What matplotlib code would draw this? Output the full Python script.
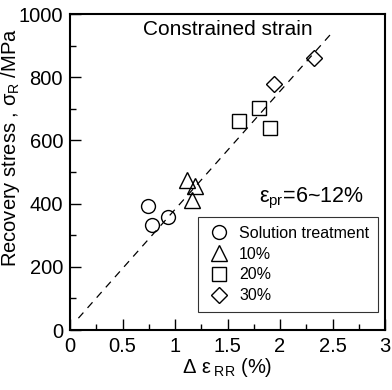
import matplotlib
matplotlib.use('Agg')
import matplotlib.pyplot as plt
import numpy as np
from matplotlib.ticker import MultipleLocator, FormatStrFormatter

plt.rcParams['font.family'] = ['Liberation Sans', 'DejaVu Sans']
plt.rcParams['mathtext.fontset'] = 'custom'
plt.rcParams['mathtext.rm'] = 'Liberation Sans'
plt.rcParams['mathtext.it'] = 'Liberation Sans'

# data
st_x = [0.74, 0.78, 0.93]
st_y = [393, 331, 357]
p10_x = [1.11, 1.19, 1.16]
p10_y = [474, 457, 411]
p20_x = [1.61, 1.80, 1.90]
p20_y = [662, 701, 639]
p30_x = [1.94, 2.32]
p30_y = [778, 861]
fit_x = [0.08, 2.48]
slope, icpt = 374, 7.5

fig = plt.figure(figsize=(3.92, 3.90), dpi=100)
ax = fig.add_axes([70/392, 1-330/390, 315/392, 316/390])

ms = 10
kw = dict(ls='none', mfc='none', mec='k', mew=1.0)
ax.plot(st_x, st_y, marker='o', ms=ms, label='Solution treatment', **kw)
ax.plot(p10_x, p10_y, marker='^', ms=ms+1, label='10%', **kw)
ax.plot(p20_x, p20_y, marker='s', ms=ms, label='20%', **kw)
ax.plot(p30_x, p30_y, marker='D', ms=ms-2, label='30%', **kw)
fx = np.array(fit_x)
ax.plot(fx, slope*fx+icpt, 'k--', lw=0.9, dashes=(6, 5))

ax.set_xlim(0, 3)
ax.set_ylim(0, 1000)
ax.xaxis.set_major_locator(MultipleLocator(0.5))
ax.xaxis.set_minor_locator(MultipleLocator(0.25))
ax.xaxis.set_major_formatter(FormatStrFormatter('%g'))
ax.yaxis.set_major_locator(MultipleLocator(200))
ax.yaxis.set_minor_locator(MultipleLocator(100))
ax.tick_params(which='both', direction='in', labelsize=14.5, width=1)
ax.tick_params(which='major', length=8, pad=5)
ax.tick_params(which='minor', length=4)
for s in ax.spines.values():
    s.set_linewidth(1.5)

ax.set_xlabel(r'$\Delta\ \varepsilon_{\ \mathrm{RR}}$ (%)', fontsize=14.5, labelpad=0)
ax.set_ylabel(r'Recovery stress , $\sigma_{\mathrm{R}}$ /MPa', fontsize=14.5)
ax.yaxis.set_label_coords(-0.152, 0.576)

ax.text(0.5, 0.95, 'Constrained strain', transform=ax.transAxes,
        ha='center', va='center', fontsize=15)
ax.text(0.765, 0.415, r'$\varepsilon_{\mathrm{pr}}$=6~12%', transform=ax.transAxes,
        ha='center', va='center', fontsize=15.5)

leg = ax.legend(loc='lower right', bbox_to_anchor=(0.978, 0.057), borderaxespad=0,
                fontsize=11.5, frameon=True, fancybox=False, edgecolor='k',
                handlelength=1.5, handletextpad=0.5, labelspacing=0.36,
                borderpad=0.55)
leg.get_frame().set_linewidth(0.8)

fig.savefig('out.png', dpi=100)
